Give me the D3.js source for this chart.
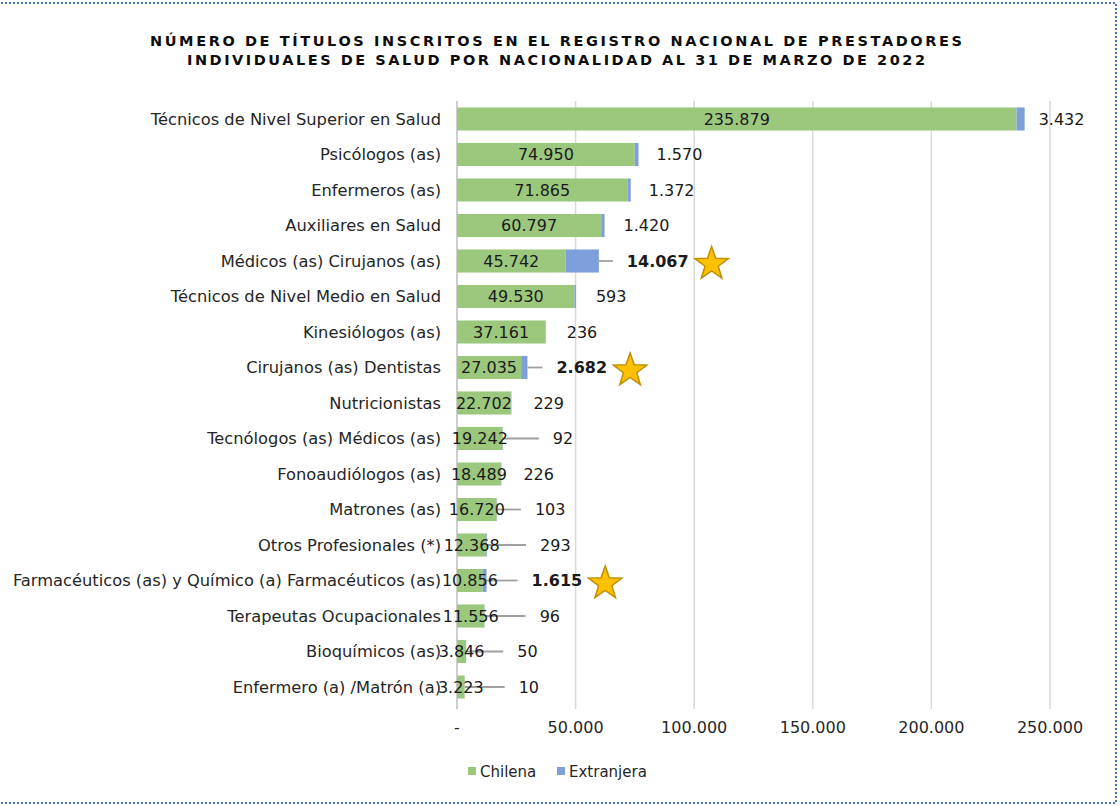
<!DOCTYPE html>
<html>
<head>
<meta charset="utf-8">
<script src="https://cdn.jsdelivr.net/npm/d3@7"></script>
<style>
  html, body { margin: 0; padding: 0; background: #fff; }
  svg { display: block; }
</style>
</head>
<body>
<svg id="chart" width="1120" height="806"></svg>
<script>
const titleLines = [
  "NÚMERO DE TÍTULOS INSCRITOS EN EL REGISTRO NACIONAL DE PRESTADORES",
  "INDIVIDUALES DE SALUD POR NACIONALIDAD AL 31 DE MARZO DE 2022"
];
const categories = [
  "Técnicos de Nivel Superior en Salud",
  "Psicólogos (as)",
  "Enfermeros (as)",
  "Auxiliares en Salud",
  "Médicos (as) Cirujanos (as)",
  "Técnicos de Nivel Medio en Salud",
  "Kinesiólogos (as)",
  "Cirujanos (as) Dentistas",
  "Nutricionistas",
  "Tecnólogos (as) Médicos (as)",
  "Fonoaudiólogos (as)",
  "Matrones (as)",
  "Otros Profesionales (*)",
  "Farmacéuticos (as) y Químico (a) Farmacéuticos (as)",
  "Terapeutas Ocupacionales",
  "Bioquímicos (as)",
  "Enfermero (a) /Matrón (a)"
];
const chilena = [235879, 74950, 71865, 60797, 45742, 49530, 37161, 27035, 22702, 19242, 18489, 16720, 12368, 10856, 11556, 3846, 3223];
const extranjera = [3432, 1570, 1372, 1420, 14067, 593, 236, 2682, 229, 92, 226, 103, 293, 1615, 96, 50, 10];
const highlighted = [false, false, false, false, true, false, false, true, false, false, false, false, false, true, false, false, false];
const seriesNames = ["Chilena", "Extranjera"];
const xTicks = [0, 50000, 100000, 150000, 200000, 250000];

// layout (label offsets for the foreign-series labels, in px)
const extLabelGap = [14, 18, 18, 19, 28, 20, 21, 29, 22, 50, 22, 38, 53, 45, 55, 51, 54];

const colors = { Chilena: "#9CC87E", Extranjera: "#7F9FDA" };
const FONT = "'DejaVu Sans', Verdana, sans-serif";
const FS = 16;

const svg = d3.select("#chart");

// border
svg.append("rect")
  .attr("x", -3).attr("y", 3).attr("width", 1119).attr("height", 800)
  .attr("fill", "none").attr("stroke", "#4472C4").attr("stroke-width", 2)
  .attr("stroke-dasharray", "2,2");

// title
const titleW = [812, 738];
titleLines.forEach((t, i) => {
  svg.append("text")
    .attr("x", 556).attr("y", 45.5 + i * 19)
    .attr("text-anchor", "middle")
    .attr("font-family", FONT)
    .attr("font-weight", "bold").attr("font-size", 14.5)
    .attr("fill", "#0d0d0d")
    .attr("textLength", titleW[i]).attr("lengthAdjust", "spacing")
    .text(t);
});

const x = d3.scaleLinear().domain([0, 250000]).range([457, 1050]);
const y = d3.scaleBand().domain(categories).range([101.25, 704.75]).paddingInner(0.35).paddingOuter(0.175);

const fmtLocale = d3.formatLocale({ decimal: ",", thousands: ".", grouping: [3], currency: ["$", ""] });
const fmt = fmtLocale.format(",d");

const gridTop = 101, gridBottom = 709;

// gridlines
svg.append("g").selectAll("line").data(xTicks.slice(1)).join("line")
  .attr("x1", d => x(d)).attr("x2", d => x(d))
  .attr("y1", gridTop).attr("y2", gridBottom)
  .attr("stroke", "#D9D9D9").attr("stroke-width", 1.5);

// axis line
svg.append("line")
  .attr("x1", x(0)).attr("x2", x(0)).attr("y1", gridTop).attr("y2", gridBottom)
  .attr("stroke", "#BFBFBF").attr("stroke-width", 1.5);

// x tick labels
svg.append("g").selectAll("text").data(xTicks).join("text")
  .attr("x", d => x(d)).attr("y", 733)
  .attr("text-anchor", "middle")
  .attr("font-family", FONT).attr("font-size", FS).attr("fill", "#262626")
  .text(d => d === 0 ? "-" : fmt(d));

// category labels
svg.append("g").selectAll("text").data(categories).join("text")
  .attr("x", 441).attr("y", d => y(d) + y.bandwidth() / 2)
  .attr("dy", "0.36em")
  .attr("text-anchor", "end")
  .attr("font-family", FONT).attr("font-size", 16.3).attr("fill", "#262626")
  .text(d => d);

const rows = categories.map((c, i) => ({ c, i, ch: chilena[i], ex: extranjera[i] }));

// bars
const g = svg.append("g");
g.selectAll("rect.ch").data(rows).join("rect").attr("class", "ch")
  .attr("x", d => x(0)).attr("y", d => y(d.c))
  .attr("width", d => x(d.ch) - x(0)).attr("height", y.bandwidth())
  .attr("fill", colors.Chilena);
g.selectAll("rect.ex").data(rows).join("rect").attr("class", "ex")
  .attr("x", d => x(d.ch)).attr("y", d => y(d.c))
  .attr("width", d => x(d.ch + d.ex) - x(d.ch)).attr("height", y.bandwidth())
  .attr("fill", colors.Extranjera);

// leader lines
g.selectAll("line.lead").data(rows.filter(d => extLabelGap[d.i] > 25)).join("line").attr("class", "lead")
  .attr("x1", d => x(d.ch + d.ex)).attr("x2", d => x(d.ch + d.ex) + extLabelGap[d.i] - 14)
  .attr("y1", d => y(d.c) + y.bandwidth() / 2).attr("y2", d => y(d.c) + y.bandwidth() / 2)
  .attr("stroke", "#A0A0A0").attr("stroke-width", 1.8);

// chilena labels
g.selectAll("text.chl").data(rows).join("text").attr("class", "chl")
  .attr("x", d => (x(0) + x(d.ch)) / 2).attr("y", d => y(d.c) + y.bandwidth() / 2)
  .attr("dy", "0.36em").attr("text-anchor", "middle")
  .attr("font-family", FONT).attr("font-size", FS).attr("fill", "#1a1a1a")
  .text(d => fmt(d.ch));

// extranjera labels
const exl = g.selectAll("text.exl").data(rows).join("text").attr("class", "exl")
  .attr("x", d => x(d.ch + d.ex) + extLabelGap[d.i]).attr("y", d => y(d.c) + y.bandwidth() / 2)
  .attr("dy", "0.36em")
  .attr("font-family", FONT).attr("font-size", FS)
  .attr("font-weight", d => highlighted[d.i] ? "bold" : "normal")
  .attr("fill", "#1a1a1a")
  .text(d => fmt(d.ex));

// stars
function starPath(cx, cy, R, r) {
  const pts = [];
  for (let k = 0; k < 10; k++) {
    const a = -Math.PI / 2 + k * Math.PI / 5;
    const rad = k % 2 === 0 ? R : r;
    pts.push([cx + rad * Math.cos(a), cy + rad * Math.sin(a)]);
  }
  return "M" + pts.map(p => p.join(",")).join("L") + "Z";
}
exl.each(function (d) {
  if (!highlighted[d.i]) return;
  const len = this.getComputedTextLength();
  const sx = x(d.ch + d.ex) + extLabelGap[d.i] + len + 23;
  const sy = y(d.c) + y.bandwidth() / 2 + 3;
  g.append("path").attr("d", starPath(sx, sy, 17.5, 7))
    .attr("fill", "#FFC000").attr("stroke", "#BF9000").attr("stroke-width", 1.5);
});

// legend
const leg = svg.append("g");
const legX = [468, 557];
seriesNames.forEach((s, i) => {
  leg.append("rect").attr("x", legX[i]).attr("y", 767).attr("width", 8).attr("height", 8).attr("fill", colors[s]);
  leg.append("text").attr("x", legX[i] + 12).attr("y", 777)
    .attr("font-family", FONT).attr("font-size", 15).attr("fill", "#262626").text(s);
});
</script>
</body>
</html>
